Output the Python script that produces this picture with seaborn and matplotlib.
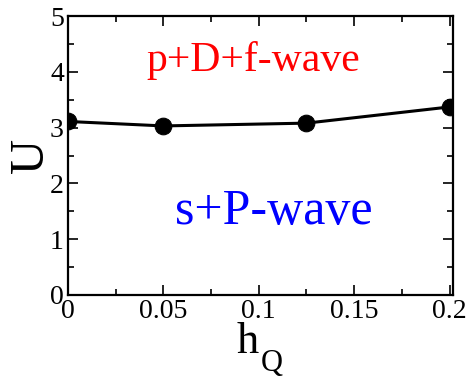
import matplotlib
matplotlib.use("Agg")
import matplotlib.pyplot as plt
import seaborn as sns
import pandas as pd
from matplotlib.ticker import MultipleLocator

hq = [0.0, 0.05, 0.125, 0.2]
u_vals = [3.11, 3.03, 3.08, 3.37]
x_ticks = [0, 0.05, 0.1, 0.15, 0.2]
x_tick_labels = ["0", "0.05", "0.1", "0.15", "0.2"]
y_ticks = [0, 1, 2, 3, 4, 5]

sns.set_style("ticks")
plt.rcParams["font.family"] = ["Liberation Serif", "DejaVu Serif"]
plt.rcParams["text.color"] = "black"
plt.rcParams["axes.labelcolor"] = "black"
plt.rcParams["xtick.color"] = "black"
plt.rcParams["ytick.color"] = "black"
plt.rcParams["axes.edgecolor"] = "black"

df = pd.DataFrame({"hQ": hq, "U": u_vals})

W, H = 471, 377
fig = plt.figure(figsize=(W/100, H/100), dpi=100)
ax = fig.add_axes([68/W, 1-295/H, (453-68)/W, (295-16)/H])

sns.lineplot(data=df, x="hQ", y="U", ax=ax, color="black", linewidth=2.2,
             marker="o", markersize=12, markeredgecolor="black", markerfacecolor="black")

ax.set_xlim(0, 0.2018)
ax.set_ylim(0, 5)
ax.set_xticks(x_ticks)
ax.set_xticklabels(x_tick_labels)
ax.set_yticks(y_ticks)
ax.xaxis.set_minor_locator(MultipleLocator(0.025))
ax.yaxis.set_minor_locator(MultipleLocator(0.5))
ax.tick_params(which="both", direction="in", top=True, right=True, width=1.2, labelsize=20,
               colors="black")
ax.tick_params(which="major", length=7)
ax.tick_params(which="minor", length=4)
ax.tick_params(axis="y", pad=3)
ax.tick_params(axis="x", pad=3)
for s in ax.spines.values():
    s.set_linewidth(1.6)
    s.set_visible(True)
    s.set_color("black")

# x label: "h" with subscript "Q"
ax.set_xlabel("h", fontsize=32)
ax.xaxis.set_label_coords(237/W, (H-353)/H, transform=fig.transFigure)
ax.xaxis.label.set_ha("left")
ax.xaxis.label.set_va("baseline")
fig.text(261/W, (H-371)/H, "Q", fontsize=22, ha="left", va="baseline")

ax.set_ylabel("U", fontsize=35)
ax.yaxis.set_label_coords(-0.04, 0.5)

ax.text(0.097, 4.01, "p+D+f-wave", color="red", fontsize=30, ha="center", va="baseline")
ax.text(0.108, 1.27, "s+P-wave", color="blue", fontsize=36, ha="center", va="baseline")

fig.savefig("out.png", dpi=100)
